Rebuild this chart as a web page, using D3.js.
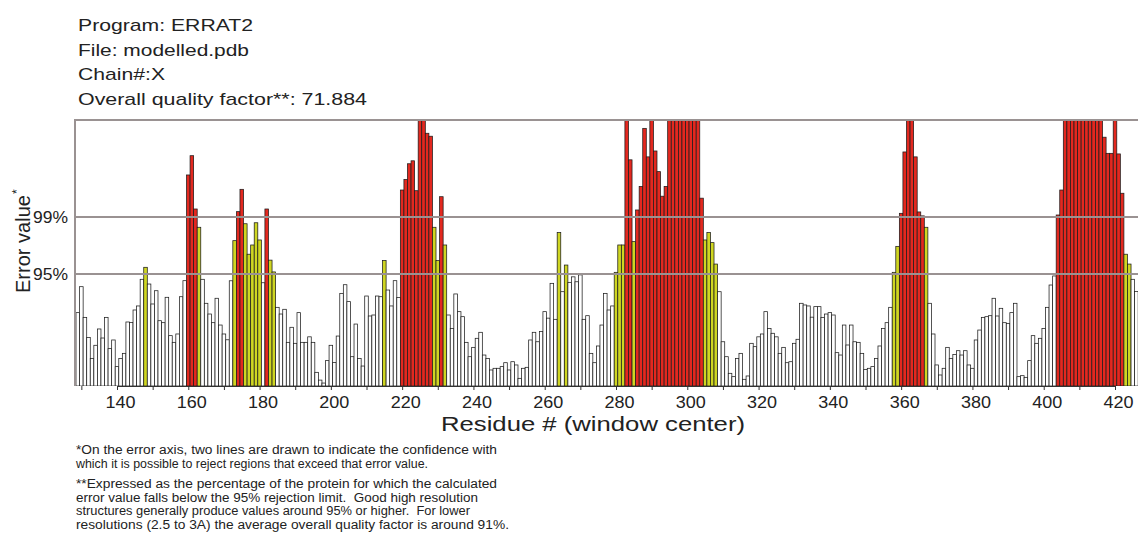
<!DOCTYPE html>
<html><head><meta charset="utf-8">
<script src="https://cdn.jsdelivr.net/npm/d3@7"></script>
<style>
body{margin:0;background:#fff;}
svg{display:block;font-family:"Liberation Sans",Arial,Helvetica,sans-serif;}
text{white-space:pre;}
</style>
</head><body>
<svg id="chart" width="1140" height="534"></svg>
<script>
// ---------------- data ----------------
const headerLines = [
  "Program: ERRAT2",
  "File: modelled.pdb",
  "Chain#:X",
  "Overall quality factor**: 71.884"
];
const firstResidue = 129;
// error value per residue (window centre), starting at firstResidue
const errorValues = [
  7.46, 10.1, 6.98, 4.92, 2.81, 4.14, 5.80, 4.88, 6.98, 3.80,      // 129-138
  4.68, 1.97, 2.81, 3.32, 6.51, 6.47, 7.73, 8.14, 10.85, 12.07,    // 139-148
  10.37, 8.34, 9.69, 6.64, 6.44, 9.02, 5.12, 4.44, 5.29, 9.08,     // 149-158
  10.71, 21.46, 23.42, 18.0, 16.14, 10.85, 8.41, 7.32, 6.44, 8.92, // 159-168
  6.2, 5.29, 4.7, 10.7, 14.78, 17.73, 20.0, 16.5, 13.4, 14.34,     // 169-178
  16.6, 14.85, 10.5, 18.0, 12.8, 11.6, 8.0, 7.32, 7.8, 4.44,       // 179-188
  5.97, 4.34, 7.46, 4.44, 4.44, 5.0, 4.44, 1.39, 0.6, 0.3,         // 189-198
  2.58, 4.14, 2.4, 5.08, 9.42, 10.3, 8.58, 2.98, 6.3, 2.81,        // 199-208
  2.03, 9.15, 7.12, 7.22, 9.15, 9.08, 12.75, 9.76, 8.14, 10.71,    // 209-218
  9.0, 19.93, 21.0, 22.6, 22.9, 19.86, 30, 30, 25.7, 25.4,         // 219-228
  16.14, 12.75, 19.25, 14.34, 7.22, 5.86, 9.36, 7.56, 7.05, 4.44,  // 229-238
  2.98, 3.93, 4.85, 5.46, 3.15, 2.81, 1.63, 1.8, 1.8, 1.97,        // 239-248
  2.37, 1.63, 2.47, 2.14, 0.78, 1.8, 1.9, 4.68, 5.46, 4.5,         // 249-258
  5.53, 7.56, 6.9, 10.44, 6.78, 15.6, 9.59, 12.3, 10.54, 11.1,     // 259-268
  10.6, 11.3, 6.78, 7.15, 3.32, 2.37, 4.07, 6.2, 9.42, 7.73,       // 269-278
  8.14, 11.56, 14.34, 14.34, 30, 23.0, 14.68, 17.9, 20.3, 26.2,    // 279-288
  23.3, 30, 23.9, 21.8, 19.3, 20.3, 30, 30, 30, 30,                // 289-298
  30, 30, 30, 30, 30, 19.1, 14.85, 15.6, 14.58, 12.4,              // 299-308
  9.59, 4.5, 2.98, 1.29, 0.95, 2.81, 3.32, 0.68, 1.02, 4.34,       // 309-318
  4.0, 5.0, 5.29, 7.56, 5.86, 5.36, 5.0, 3.32, 3.93, 2.37,         // 319-328
  2.47, 4.34, 4.75, 8.41, 8.24, 8.14, 7.0, 8.07, 8.07, 6.98,       // 329-338
  7.32, 7.46, 7.22, 3.39, 3.15, 6.2, 4.17, 6.2, 4.5, 4.44,         // 339-348
  3.32, 1.69, 1.8, 1.97, 2.81, 4.07, 5.86, 6.44, 8.0, 11.56,       // 349-358
  14.2, 17.56, 23.8, 30, 30, 23.3, 17.7, 17.3, 16.14, 8.41,        // 359-368
  5.29, 2.14, 1.12, 1.8, 3.93, 2.81, 3.2, 3.59, 3.15, 3.59,        // 369-378
  2.14, 1.8, 4.68, 5.69, 6.98, 7.05, 7.15, 8.92, 7.12, 7.9,        // 379-388
  6.44, 6.37, 7.46, 8.41, 0.95, 1.05, 0.88, 2.58, 5.12, 4.34,      // 389-398
  4.85, 5.86, 8.0, 10.27, 11.19, 17.39, 19.93, 30, 30, 30,         // 399-408
  30, 30, 30, 30, 30, 30, 30, 30, 25.3, 23.66,                     // 409-418
  23.66, 30, 23.6, 19.6, 13.4, 12.4, 10.85, 9.6                    // 419-426
];
const limitLines = [
  {label: "95%", value: 11.38},
  {label: "99%", value: 17.19}
];
const yMax = 27.05;
const xTickValues = [130,140,150,160,170,180,190,200,210,220,230,240,250,260,270,280,290,300,310,320,330,340,350,360,370,380,390,400,410,420];
const xTickLabels = [140,160,180,200,220,240,260,280,300,320,340,360,380,400,420];
const barColours = {low: "#ffffff", mid: "#cfd622", high: "#e3281f"};
const yAxisTitle = "Error value";
const xAxisTitle = "Residue # (window center)";
const footnotes = [
  "*On the error axis, two lines are drawn to indicate the confidence with",
  "which it is possible to reject regions that exceed that error value.",
  "**Expressed as the percentage of the protein for which the calculated",
  "error value falls below the 95% rejection limit.  Good high resolution",
  "structures generally produce values around 95% or higher.  For lower",
  "resolutions (2.5 to 3A) the average overall quality factor is around 91%."
];

// ---------------- layout ----------------
const svg = d3.select("#chart");
const plot = {left: 75, right: 1138, top: 120, bottom: 386};
const x = d3.scaleLinear().domain([140, 420]).range([117, 1115]);
const y = d3.scaleLinear().domain([0, yMax]).range([plot.bottom, plot.top]).clamp(true);
const barW = x(1) - x(0);
const data = errorValues.map((v, i) => ({residue: firstResidue + i, value: v}));
const lim95 = limitLines[0].value, lim99 = limitLines[1].value;
const colourOf = v => v > lim99 ? barColours.high : (v > lim95 ? barColours.mid : barColours.low);

// header
const headerW = [175, 171, 87, 289];
svg.append("g").selectAll("text").data(headerLines).join("text")
  .attr("x", 78).attr("y", (d, i) => 31 + i * 24.7)
  .attr("font-size", 17).attr("fill", "#222")
  .attr("textLength", (d, i) => headerW[i]).attr("lengthAdjust", "spacingAndGlyphs")
  .text(d => d);

// bars
svg.append("clipPath").attr("id", "pc").append("rect")
  .attr("x", plot.left).attr("y", plot.top).attr("width", plot.right - plot.left).attr("height", plot.bottom - plot.top);
svg.append("g").attr("clip-path", "url(#pc)").selectAll("rect").data(data).join("rect")
  .attr("x", d => x(d.residue) - barW / 2)
  .attr("y", d => y(d.value))
  .attr("width", barW)
  .attr("height", d => plot.bottom - y(d.value))
  .attr("fill", d => colourOf(d.value))
  .attr("stroke", "#1c1c1c").attr("stroke-width", 0.75);

// frame & limit lines
const frameCol = "#9a9292";
svg.append("line").attr("x1", plot.left).attr("x2", plot.right).attr("y1", plot.top).attr("y2", plot.top)
  .attr("stroke", frameCol).attr("stroke-width", 2);
svg.append("line").attr("x1", plot.left).attr("x2", plot.left).attr("y1", plot.top - 1).attr("y2", plot.bottom)
  .attr("stroke", frameCol).attr("stroke-width", 2);
const lg = svg.append("g").selectAll("g").data(limitLines).join("g");
lg.append("line").attr("x1", plot.left).attr("x2", plot.right)
  .attr("y1", d => y(d.value)).attr("y2", d => y(d.value))
  .attr("stroke", frameCol).attr("stroke-width", 2);
lg.append("text").attr("x", 68).attr("y", d => y(d.value)).attr("dy", "0.36em")
  .attr("text-anchor", "end").attr("font-size", 16).attr("fill", "#222")
  .attr("textLength", 35).attr("lengthAdjust", "spacingAndGlyphs")
  .text(d => d.label);

// x axis
const xAxis = d3.axisBottom(x).tickValues(xTickValues).tickSize(4).tickPadding(6)
  .tickFormat(d => xTickLabels.includes(d) ? d : "");
const ax = svg.append("g").attr("transform", `translate(0,${plot.bottom})`).call(xAxis);
ax.select(".domain").attr("stroke", "#333").attr("stroke-width", 1);
ax.selectAll(".tick line").attr("stroke", "#333");
ax.selectAll(".tick text").attr("font-size", 17).attr("fill", "#222")
  .attr("font-family", "Liberation Sans, Arial, sans-serif")
  .attr("dx", 3)
  .filter(function(){ return this.textContent !== ""; })
  .attr("textLength", 30).attr("lengthAdjust", "spacingAndGlyphs");

// axis titles
svg.append("text").attr("x", 441).attr("y", 431).attr("font-size", 20).attr("fill", "#222")
  .attr("textLength", 304).attr("lengthAdjust", "spacingAndGlyphs").text(xAxisTitle);
svg.append("text").attr("transform", "translate(30,293) rotate(-90)")
  .attr("font-size", 20).attr("fill", "#222")
  .attr("textLength", 98).attr("lengthAdjust", "spacingAndGlyphs").text(yAxisTitle);
svg.append("text").attr("transform", "translate(21,194) rotate(-90)")
  .attr("font-size", 12).attr("fill", "#222").text("*");

// footnotes
const fnY = [454, 468, 488, 502, 515, 529];
const fnW = [421, 352, 421, 402, 394, 433];
svg.append("g").selectAll("text").data(footnotes).join("text")
  .attr("x", 76).attr("y", (d, i) => fnY[i])
  .attr("font-size", 12.5).attr("fill", "#222")
  .attr("textLength", (d, i) => fnW[i]).attr("lengthAdjust", "spacingAndGlyphs")
  .text(d => d);
</script>
</body></html>
